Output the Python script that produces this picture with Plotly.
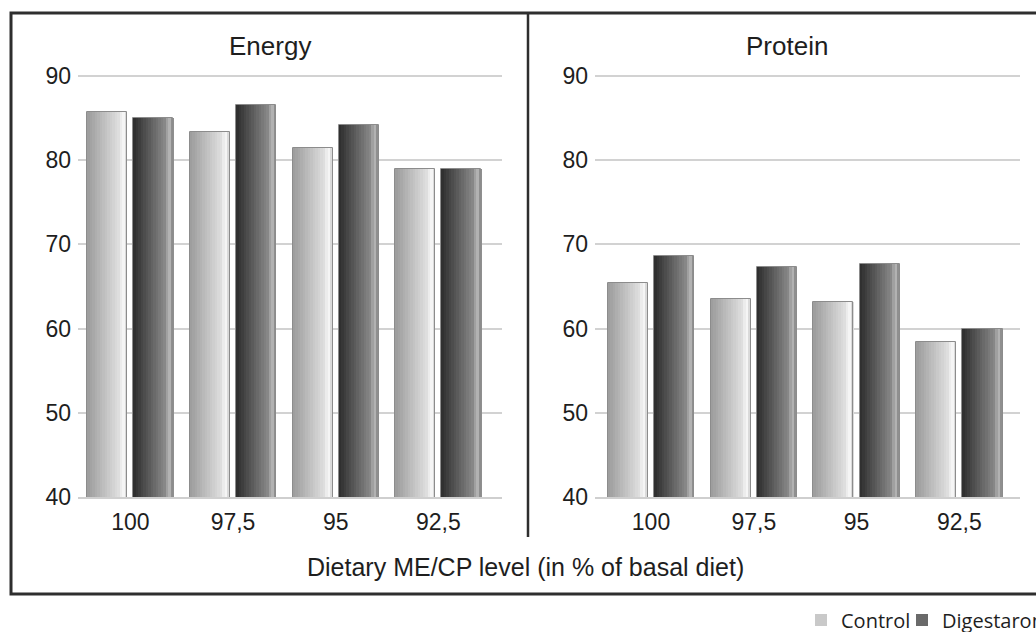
import plotly.graph_objects as go

# ---- data ----
levels = ["100", "97,5", "95", "92,5"]
series_names = ["Control", "Digestarom"]
energy_control = [85.7, 83.4, 81.4, 79.0]
energy_digestarom = [85.0, 86.6, 84.2, 79.0]
protein_control = [65.4, 63.5, 63.2, 58.4]
protein_digestarom = [68.6, 67.3, 67.7, 59.9]
y_ticks = [40, 50, 60, 70, 80, 90]
panel_titles = ["Energy", "Protein"]
x_title = "Dietary ME/CP level (in % of basal diet)"

W, H = 1036, 632
def px(x):
    return x / W
def py(y):
    return 1 - y / H

# gradient stops (position across bar width, rgb)
grad = {
    "Control": [(0.0, (155, 155, 155)), (0.78, (222, 222, 222)), (0.9, (248, 248, 248)), (1.0, (205, 205, 205))],
    "Digestarom": [(0.0, (44, 44, 44)), (0.78, (135, 135, 135)), (0.9, (182, 182, 182)), (1.0, (125, 125, 125))],
}
def color_at(stops, t):
    for (t0, c0), (t1, c1) in zip(stops[:-1], stops[1:]):
        if t0 <= t <= t1:
            f = (t - t0) / (t1 - t0) if t1 > t0 else 0
            c = [round(a + (b - a) * f) for a, b in zip(c0, c1)]
            return "rgb(%d,%d,%d)" % tuple(c)
    return "rgb(%d,%d,%d)" % stops[-1][1]

bar_start = {"Control": -0.42, "Digestarom": 0.03}
legend_of = {"Control": "legend", "Digestarom": "legend2"}
bar_w = 0.39
N = 16

fig = go.Figure()
panels = [
    ("x", "y", {"Control": energy_control, "Digestarom": energy_digestarom}),
    ("x2", "y2", {"Control": protein_control, "Digestarom": protein_digestarom}),
]
for pi, (xa, ya, data) in enumerate(panels):
    for name in series_names:
        vals = data[name]
        sw = bar_w / N
        for i in range(N):
            t = (i + 0.5) / N
            show = (pi == 0 and i == N // 2)
            fig.add_trace(go.Bar(
                x=levels, y=vals, base=0, xaxis=xa, yaxis=ya,
                width=sw * 1.08, offset=bar_start[name] + i * sw,
                marker=dict(color=color_at(grad[name], t), line=dict(width=0)),
                name=name, legendgroup=name, showlegend=show, legend=legend_of[name],
                hoverinfo="skip" if not show else None,
            ))
        # outline
        fig.add_trace(go.Bar(
            x=levels, y=vals, xaxis=xa, yaxis=ya,
            width=bar_w, offset=bar_start[name],
            marker=dict(color="rgba(0,0,0,0)", line=dict(width=1, color="#8c8c8c")),
            name=name, legendgroup=name, showlegend=False, legend=legend_of[name],
            hoverinfo="skip",
        ))

font_main = "Liberation Sans, Arial, sans-serif"
yax_common = dict(
    range=[40, 90.12], tickvals=y_ticks, showgrid=True, gridcolor="#d2d2d2", gridwidth=1.5,
    zeroline=False, showline=False, ticks="", ticklabelstandoff=6,
    tickfont=dict(family=font_main, size=23, color="#1e1e1e"),
    domain=[py(497), py(75)],
)
xax_common = dict(
    type="category", showgrid=False, zeroline=False, showline=True, linecolor="#cfcfcf",
    linewidth=1.5, ticks="", ticklabelstandoff=4,
    tickfont=dict(family=font_main, size=23, color="#1e1e1e"),
)
legend_common = dict(
    orientation="h", y=py(620), xanchor="left", yanchor="middle",
    font=dict(family="Open Sans, sans-serif", size=20, color="#1e1e1e"),
    bgcolor="rgba(0,0,0,0)", itemwidth=30,
)

fig.update_layout(
    width=W, height=H,
    margin=dict(l=0, r=0, t=0, b=0, autoexpand=False),
    paper_bgcolor="white", plot_bgcolor="white",
    barmode="overlay", bargap=0,
    xaxis=dict(**xax_common, domain=[px(78), px(502)], range=[-0.51, 3.62], anchor="y"),
    xaxis2=dict(**xax_common, domain=[px(595), px(1020)], range=[-0.545, 3.59], anchor="y2"),
    yaxis=dict(**yax_common, anchor="x"),
    yaxis2=dict(**yax_common, anchor="x2"),
    legend=dict(**legend_common, x=px(801)),
    legend2=dict(**legend_common, x=px(902)),
    showlegend=True,
)

# panel titles
for title, cx in zip(panel_titles, [270, 787]):
    fig.add_annotation(text=title, x=px(cx), y=py(46), xref="paper", yref="paper",
                       showarrow=False, xanchor="center", yanchor="middle",
                       font=dict(family=font_main, size=26, color="#1e1e1e"))
fig.add_annotation(text=x_title, x=px(525), y=py(567), xref="paper", yref="paper",
                   showarrow=False, xanchor="center", yanchor="middle",
                   font=dict(family=font_main, size=25, color="#1e1e1e"))

# frame and divider
fig.add_shape(type="rect", xref="paper", yref="paper", x0=px(11), x1=px(1045), y0=py(594), y1=py(13),
              line=dict(color="#2e2e2e", width=3), fillcolor="rgba(0,0,0,0)", layer="above")
fig.add_shape(type="line", xref="paper", yref="paper", x0=px(528), x1=px(528), y0=py(537), y1=py(13),
              line=dict(color="#2e2e2e", width=2.5), layer="above")

fig.write_html("out.html", config={"displayModeBar": False},
               post_script="document.body.style.margin='0';document.body.style.overflow='hidden';")
